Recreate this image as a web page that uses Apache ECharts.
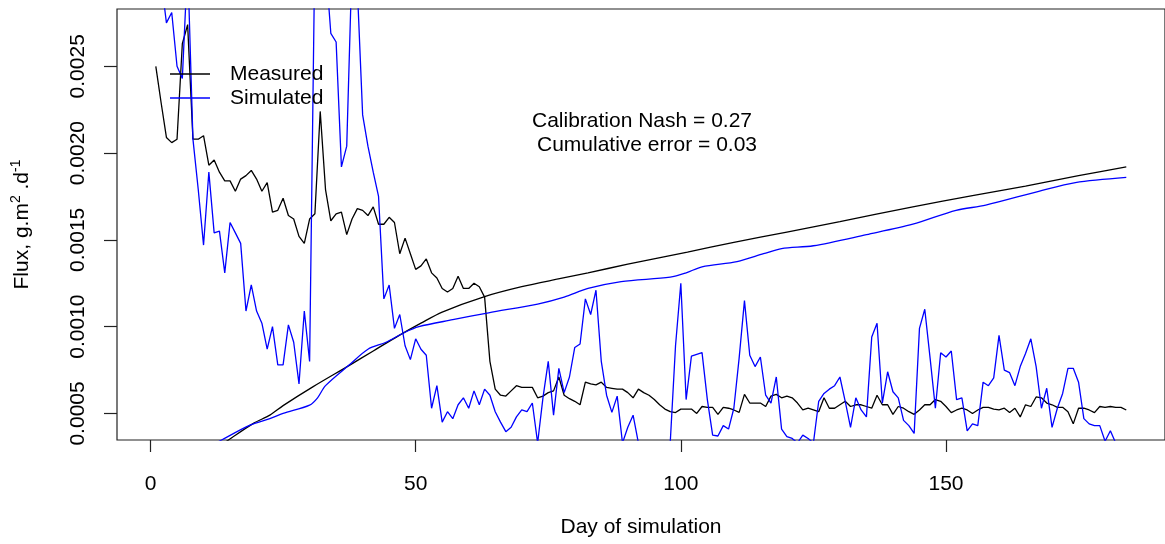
<!DOCTYPE html>
<html>
<head>
<meta charset="utf-8">
<title>Flux calibration</title>
<script src="https://cdn.jsdelivr.net/npm/echarts@6/dist/echarts.min.js"></script>
<style>
  html, body { margin: 0; padding: 0; background: #fff; overflow: hidden; }
  #chart { width: 1165px; height: 544px; }
</style>
</head>
<body>
<div id="chart"></div>
<script>
// daily flux, g.m2.d-1, day 1 .. 184
var measured = [
  25.0e-4, 22.9e-4, 20.9e-4, 20.6e-4, 20.8e-4, 26.3e-4, 27.4e-4, 20.8e-4, 20.8e-4, 21.0e-4,
  19.3e-4, 19.6e-4, 18.9e-4, 18.4e-4, 18.4e-4, 17.8e-4, 18.5e-4, 18.7e-4, 19.0e-4, 18.5e-4,
  17.8e-4, 18.3e-4, 16.6e-4, 16.7e-4, 17.4e-4, 16.4e-4, 16.2e-4, 15.2e-4, 14.8e-4, 16.2e-4,
  16.5e-4, 22.4e-4, 17.9e-4, 16.1e-4, 16.5e-4, 16.6e-4, 15.3e-4, 16.2e-4, 16.8e-4, 16.7e-4,
  16.4e-4, 16.9e-4, 15.9e-4, 15.9e-4, 16.3e-4, 16.0e-4, 14.2e-4, 15.1e-4, 14.2e-4, 13.3e-4,
  13.5e-4, 13.9e-4, 13.1e-4, 12.8e-4, 12.2e-4, 12.0e-4, 12.2e-4, 12.9e-4, 12.2e-4, 12.2e-4,
  12.5e-4, 12.3e-4, 11.7e-4, 8.0e-4, 6.4e-4, 6.05e-4, 6.0e-4, 6.3e-4, 6.6e-4, 6.5e-4,
  6.5e-4, 6.5e-4, 5.9e-4, 6.0e-4, 6.2e-4, 6.3e-4, 7.1e-4, 6.05e-4, 5.85e-4, 5.7e-4,
  5.5e-4, 6.8e-4, 6.7e-4, 6.65e-4, 6.8e-4, 6.5e-4, 6.45e-4, 6.4e-4, 6.4e-4, 6.2e-4,
  5.9e-4, 6.4e-4, 6.2e-4, 6.05e-4, 5.8e-4, 5.5e-4, 5.25e-4, 5.1e-4, 5.05e-4, 5.25e-4,
  5.25e-4, 5.25e-4, 5.0e-4, 5.4e-4, 5.35e-4, 5.35e-4, 4.95e-4, 5.35e-4, 5.3e-4, 5.2e-4,
  5.06e-4, 6.1e-4, 5.6e-4, 5.6e-4, 5.6e-4, 5.4e-4, 6.0e-4, 6.1e-4, 5.9e-4, 6.0e-4,
  5.9e-4, 5.6e-4, 5.2e-4, 5.3e-4, 5.2e-4, 5.1e-4, 5.9e-4, 5.3e-4, 5.3e-4, 5.5e-4,
  5.7e-4, 5.4e-4, 5.5e-4, 5.5e-4, 5.4e-4, 5.3e-4, 6.05e-4, 5.5e-4, 5.5e-4, 4.95e-4,
  5.4e-4, 5.3e-4, 5.1e-4, 4.95e-4, 5.2e-4, 5.5e-4, 5.5e-4, 5.8e-4, 5.7e-4, 5.4e-4,
  5.05e-4, 5.2e-4, 5.3e-4, 5.2e-4, 5.0e-4, 5.2e-4, 5.35e-4, 5.35e-4, 5.25e-4, 5.2e-4,
  5.3e-4, 5.05e-4, 5.3e-4, 4.8e-4, 5.5e-4, 5.4e-4, 5.95e-4, 5.9e-4, 5.6e-4, 5.5e-4,
  5.35e-4, 5.35e-4, 5.1e-4, 4.4e-4, 5.3e-4, 5.3e-4, 5.2e-4, 5.05e-4, 5.4e-4, 5.35e-4,
  5.4e-4, 5.35e-4, 5.35e-4, 5.2e-4
];

var simulated = [
  32e-4, 30e-4, 27.5e-4, 28.1e-4, 25.0e-4, 24.3e-4, 31e-4, 20.8e-4, 17.9e-4, 14.7e-4,
  18.9e-4, 15.4e-4, 15.5e-4, 13.1e-4, 16.0e-4, 15.4e-4, 14.8e-4, 10.9e-4, 12.4e-4, 10.9e-4,
  10.2e-4, 8.7e-4, 10.0e-4, 7.8e-4, 7.8e-4, 10.1e-4, 9.1e-4, 6.7e-4, 10.9e-4, 8.0e-4,
  32e-4, 34e-4, 31e-4, 26.9e-4, 26.4e-4, 19.2e-4, 20.4e-4, 31e-4, 29.5e-4, 22.2e-4,
  20.4e-4, 18.9e-4, 17.5e-4, 11.6e-4, 12.4e-4, 9.9e-4, 10.7e-4, 8.9e-4, 8.1e-4, 9.3e-4,
  8.7e-4, 8.35e-4, 5.3e-4, 6.6e-4, 4.5e-4, 5.1e-4, 4.7e-4, 5.5e-4, 5.9e-4, 5.3e-4,
  6.3e-4, 5.5e-4, 6.4e-4, 6.05e-4, 5.1e-4, 4.5e-4, 3.95e-4, 4.2e-4, 4.8e-4, 5.2e-4,
  5.1e-4, 5.6e-4, 3.3e-4, 5.9e-4, 8.0e-4, 4.9e-4, 7.6e-4, 6.2e-4, 7.1e-4, 8.8e-4,
  9.0e-4, 11.6e-4, 10.7e-4, 12.1e-4, 8.0e-4, 6.05e-4, 5.06e-4, 6.0e-4, 3.3e-4, 4.2e-4,
  4.9e-4, 3.3e-4, 2.8e-4, 2.6e-4, 2.9e-4, 2.7e-4, 3.0e-4, 3.3e-4, 8.9e-4, 12.5e-4,
  5.8e-4, 8.3e-4, 8.4e-4, 8.5e-4, 5.8e-4, 3.75e-4, 3.7e-4, 4.3e-4, 4.1e-4, 5.3e-4,
  8.2e-4, 11.5e-4, 8.35e-4, 7.7e-4, 8.25e-4, 6.05e-4, 5.6e-4, 7.1e-4, 4.1e-4, 3.66e-4,
  3.56e-4, 3.3e-4, 3.75e-4, 3.56e-4, 3.3e-4, 5.7e-4, 6.15e-4, 6.4e-4, 6.6e-4, 7.1e-4,
  5.7e-4, 4.2e-4, 5.9e-4, 5.2e-4, 4.8e-4, 9.4e-4, 10.2e-4, 5.6e-4, 7.4e-4, 6.25e-4,
  5.9e-4, 4.6e-4, 4.3e-4, 3.85e-4, 9.9e-4, 11.0e-4, 8.2e-4, 5.3e-4, 8.5e-4, 8.25e-4,
  8.6e-4, 5.8e-4, 5.9e-4, 4.0e-4, 4.4e-4, 4.3e-4, 6.8e-4, 6.6e-4, 7.05e-4, 9.5e-4,
  7.5e-4, 7.35e-4, 6.6e-4, 7.7e-4, 8.45e-4, 9.3e-4, 7.7e-4, 5.3e-4, 6.45e-4, 4.2e-4,
  5.3e-4, 6.15e-4, 7.6e-4, 7.6e-4, 6.8e-4, 4.7e-4, 4.4e-4, 4.3e-4, 4.3e-4, 3.4e-4,
  4.0e-4, 3.3e-4, 3.1e-4, 3.0e-4
];

// cumulative curves (scaled), read as [day, value]
var measuredCum = [
  [10, 2.5e-4], [14.7, 3.47e-4], [19.4, 4.43e-4], [22.5, 4.9e-4], [25, 5.45e-4],
  [30.6, 6.53e-4], [37.5, 7.77e-4], [42, 8.6e-4], [46.9, 9.5e-4], [51, 10.2e-4],
  [55, 10.84e-4], [63, 11.73e-4], [70, 12.3e-4], [76.9, 12.75e-4], [82.5, 13.1e-4],
  [90, 13.6e-4], [101.25, 14.3e-4], [110, 14.85e-4], [120, 15.45e-4], [130, 16.05e-4],
  [143.75, 16.9e-4], [155, 17.55e-4], [165, 18.1e-4], [175, 18.7e-4], [184, 19.2e-4]
];

var simulatedCum = [
  [10, 2.9e-4], [13.4, 3.47e-4], [18.75, 4.33e-4], [22.5, 4.7e-4], [25, 5.0e-4],
  [30, 5.48e-4], [31.5, 5.9e-4], [33, 6.6e-4], [37.5, 7.8e-4], [41, 8.7e-4],
  [44.4, 9.1e-4], [47.8, 9.65e-4], [50.6, 10.0e-4], [57, 10.4e-4], [63.75, 10.8e-4],
  [73, 11.3e-4], [78, 11.7e-4], [82.5, 12.2e-4], [88.75, 12.6e-4], [98, 12.85e-4],
  [101, 13.1e-4], [104, 13.45e-4], [110.6, 13.75e-4], [115.6, 14.2e-4], [119, 14.5e-4],
  [125, 14.66e-4], [135, 15.3e-4], [143.75, 15.9e-4], [151.9, 16.7e-4], [157.5, 17.0e-4],
  [167.5, 17.8e-4], [174.4, 18.3e-4], [184, 18.6e-4]
];

var xTicks = [0, 50, 100, 150];
var yTicks = [5e-4, 10e-4, 15e-4, 20e-4, 25e-4];

var days = measured.map(function (v, i) { return i + 1; });
function pairs (vals) {
  return vals.map(function (v, i) { return [days[i], v]; });
}

var font = '"Liberation Sans", Arial, Helvetica, sans-serif';
var axisColor = '#222';

var chart = echarts.init(document.getElementById('chart'), null, { renderer: 'canvas' });
chart.setOption({
  animation: false,
  backgroundColor: '#fff',
  textStyle: { fontFamily: font, color: '#000' },
  grid: {
    left: 117, right: -5, top: 9, bottom: 102,
    show: true, borderColor: axisColor, borderWidth: 1.2, backgroundColor: 'transparent'
  },
  legend: {
    data: ['Measured', 'Simulated'],
    orient: 'vertical',
    left: 165,
    top: 57,
    padding: 5,
    icon: 'rect',
    itemWidth: 40,
    itemHeight: 1.3,
    itemGap: 0,
    textStyle: { fontSize: 21, lineHeight: 24, color: '#000', padding: [0, 0, 0, 15] }
  },
  xAxis: {
    type: 'value',
    min: -6.32,
    max: 191.3,
    name: 'Day of simulation',
    nameLocation: 'middle',
    nameGap: 75,
    nameTextStyle: { fontSize: 21, lineHeight: 24, color: '#000' },
    axisLine: { show: false, onZero: false },
    axisTick: { show: true, length: 12, customValues: xTicks, lineStyle: { color: axisColor, width: 1.2 } },
    axisLabel: { customValues: xTicks, margin: 32, fontSize: 21, lineHeight: 24, color: '#000' },
    splitLine: { show: false }
  },
  yAxis: {
    type: 'value',
    min: 0.000347,
    max: 0.00283,
    name: '{a|Flux, g.m}{s|2}{a| .d}{s|-1}',
    nameLocation: 'middle',
    nameGap: 82,
    nameTextStyle: {
      color: '#000',
      rich: {
        a: { fontSize: 21, lineHeight: 26, fontFamily: font, color: '#000' },
        s: { fontSize: 14, lineHeight: 14, verticalAlign: 'top', fontFamily: font, color: '#000' }
      }
    },
    axisLine: { show: false, onZero: false },
    axisTick: { show: true, length: 13, customValues: yTicks, lineStyle: { color: axisColor, width: 1.2 } },
    axisLabel: {
      customValues: yTicks,
      rotate: 90,
      margin: 27,
      fontSize: 21,
      lineHeight: 24,
      color: '#000',
      formatter: function (v) { return v.toFixed(4); }
    },
    splitLine: { show: false }
  },
  graphic: [
    {
      type: 'text', x: 642, y: 121,
      style: { text: 'Calibration Nash = 0.27', align: 'center', verticalAlign: 'middle',
        fontSize: 21, fontFamily: font, fill: '#000' }
    },
    {
      type: 'text', x: 647, y: 145,
      style: { text: 'Cumulative error = 0.03', align: 'center', verticalAlign: 'middle',
        fontSize: 21, fontFamily: font, fill: '#000' }
    }
  ],
  series: [
    {
      name: 'Measured', type: 'line', data: pairs(measured), symbol: 'none',
      lineStyle: { color: '#000', width: 1.3 }, itemStyle: { color: '#000' }
    },
    {
      name: 'Simulated', type: 'line', data: pairs(simulated), symbol: 'none',
      lineStyle: { color: '#0000ff', width: 1.3 }, itemStyle: { color: '#0000ff' }
    },
    {
      name: 'Measured cumulative', type: 'line', data: measuredCum, symbol: 'none', smooth: 0.3,
      lineStyle: { color: '#000', width: 1.3 }, itemStyle: { color: '#000' }
    },
    {
      name: 'Simulated cumulative', type: 'line', data: simulatedCum, symbol: 'none', smooth: 0.3,
      lineStyle: { color: '#0000ff', width: 1.3 }, itemStyle: { color: '#0000ff' }
    }
  ]
});
</script>
</body>
</html>
